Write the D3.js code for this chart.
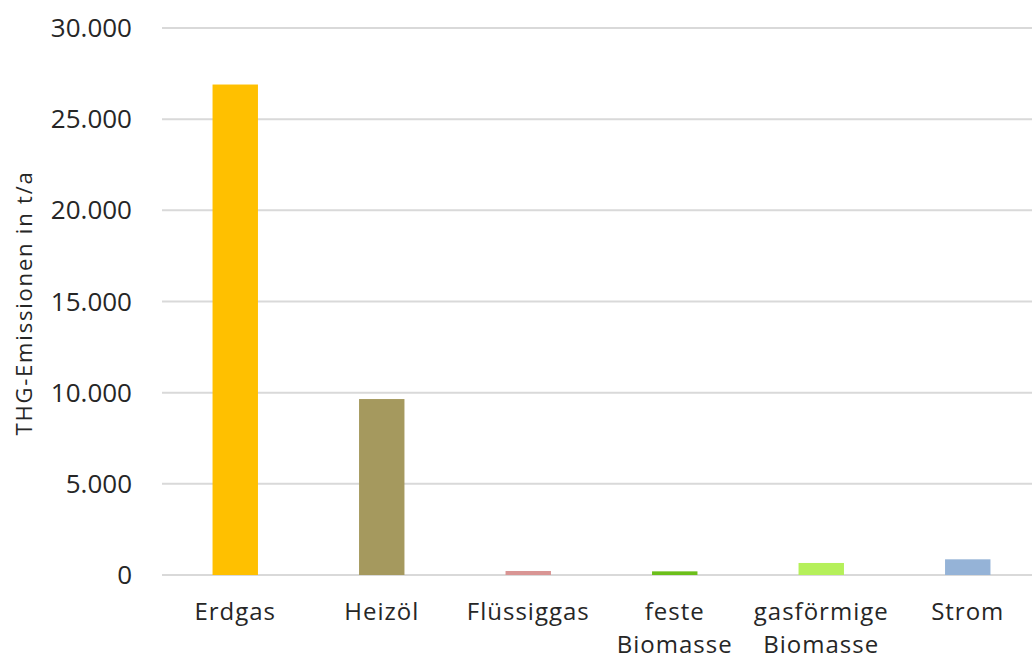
<!DOCTYPE html>
<html><head><meta charset="utf-8">
<script src="https://cdn.jsdelivr.net/npm/d3@7"></script>
<style>body{margin:0;background:#fff;} text{font-family:"Open Sans",Lato,sans-serif;}</style>
</head><body>
<svg id="c" width="1032" height="660"></svg>
<script>
const categories = [["Erdgas"],["Heizöl"],["Flüssiggas"],["feste","Biomasse"],["gasförmige","Biomasse"],["Strom"]];
const values = [26900, 9650, 220, 200, 660, 860];
const colors = ["#FFC000","#A5995E","#D99594","#6CBF1B","#B5F05A","#95B3D7"];
const yTicks = [0,5000,10000,15000,20000,25000,30000];
const yTitle = "THG-Emissionen in t/a";

(function(){
const svg = d3.select("#c");
const mLeft = 162, mRight = 1041, mTop = 28, mBottom = 575;
const x = d3.scaleBand().domain(d3.range(categories.length)).range([mLeft,mRight]).paddingInner(0.69).paddingOuter(0.345);
const y = d3.scaleLinear().domain([0,30000]).range([mBottom,mTop]);
const fmt = v => d3.format(",")(v).replace(/,/g,".");

svg.append("g").selectAll("line").data(yTicks).join("line")
  .attr("x1",mLeft).attr("x2",1032).attr("y1",d=>y(d)).attr("y2",d=>y(d))
  .attr("stroke","#d9d9d9").attr("stroke-width",2);

svg.append("g").selectAll("text").data(yTicks).join("text")
  .attr("x",132).attr("y",d=>y(d)).attr("dy","0.35em").attr("text-anchor","end")
  .attr("font-size",26).attr("fill","#262626").text(fmt);

svg.append("g").selectAll("rect").data(values).join("rect")
  .attr("x",(d,i)=>x(i)).attr("width",x.bandwidth())
  .attr("y",d=>y(d)).attr("height",d=>mBottom-y(d))
  .attr("fill",(d,i)=>colors[i]);

const lab = svg.append("g").selectAll("text").data(categories).join("text")
  .attr("x",(d,i)=>x(i)+x.bandwidth()/2).attr("y",620).attr("text-anchor","middle")
  .attr("font-size",24).attr("letter-spacing","1px").attr("fill","#262626");
lab.selectAll("tspan").data(d=>d).join("tspan")
  .attr("x",function(){return this.parentNode.getAttribute("x");})
  .attr("dy",(d,i)=>i===0?0:33).text(d=>d);

svg.append("text").attr("transform","translate(32,303) rotate(-90)")
  .attr("text-anchor","middle").attr("font-size",22).attr("letter-spacing","1.8px").attr("fill","#262626").text(yTitle);
})();
</script>
</body></html>
